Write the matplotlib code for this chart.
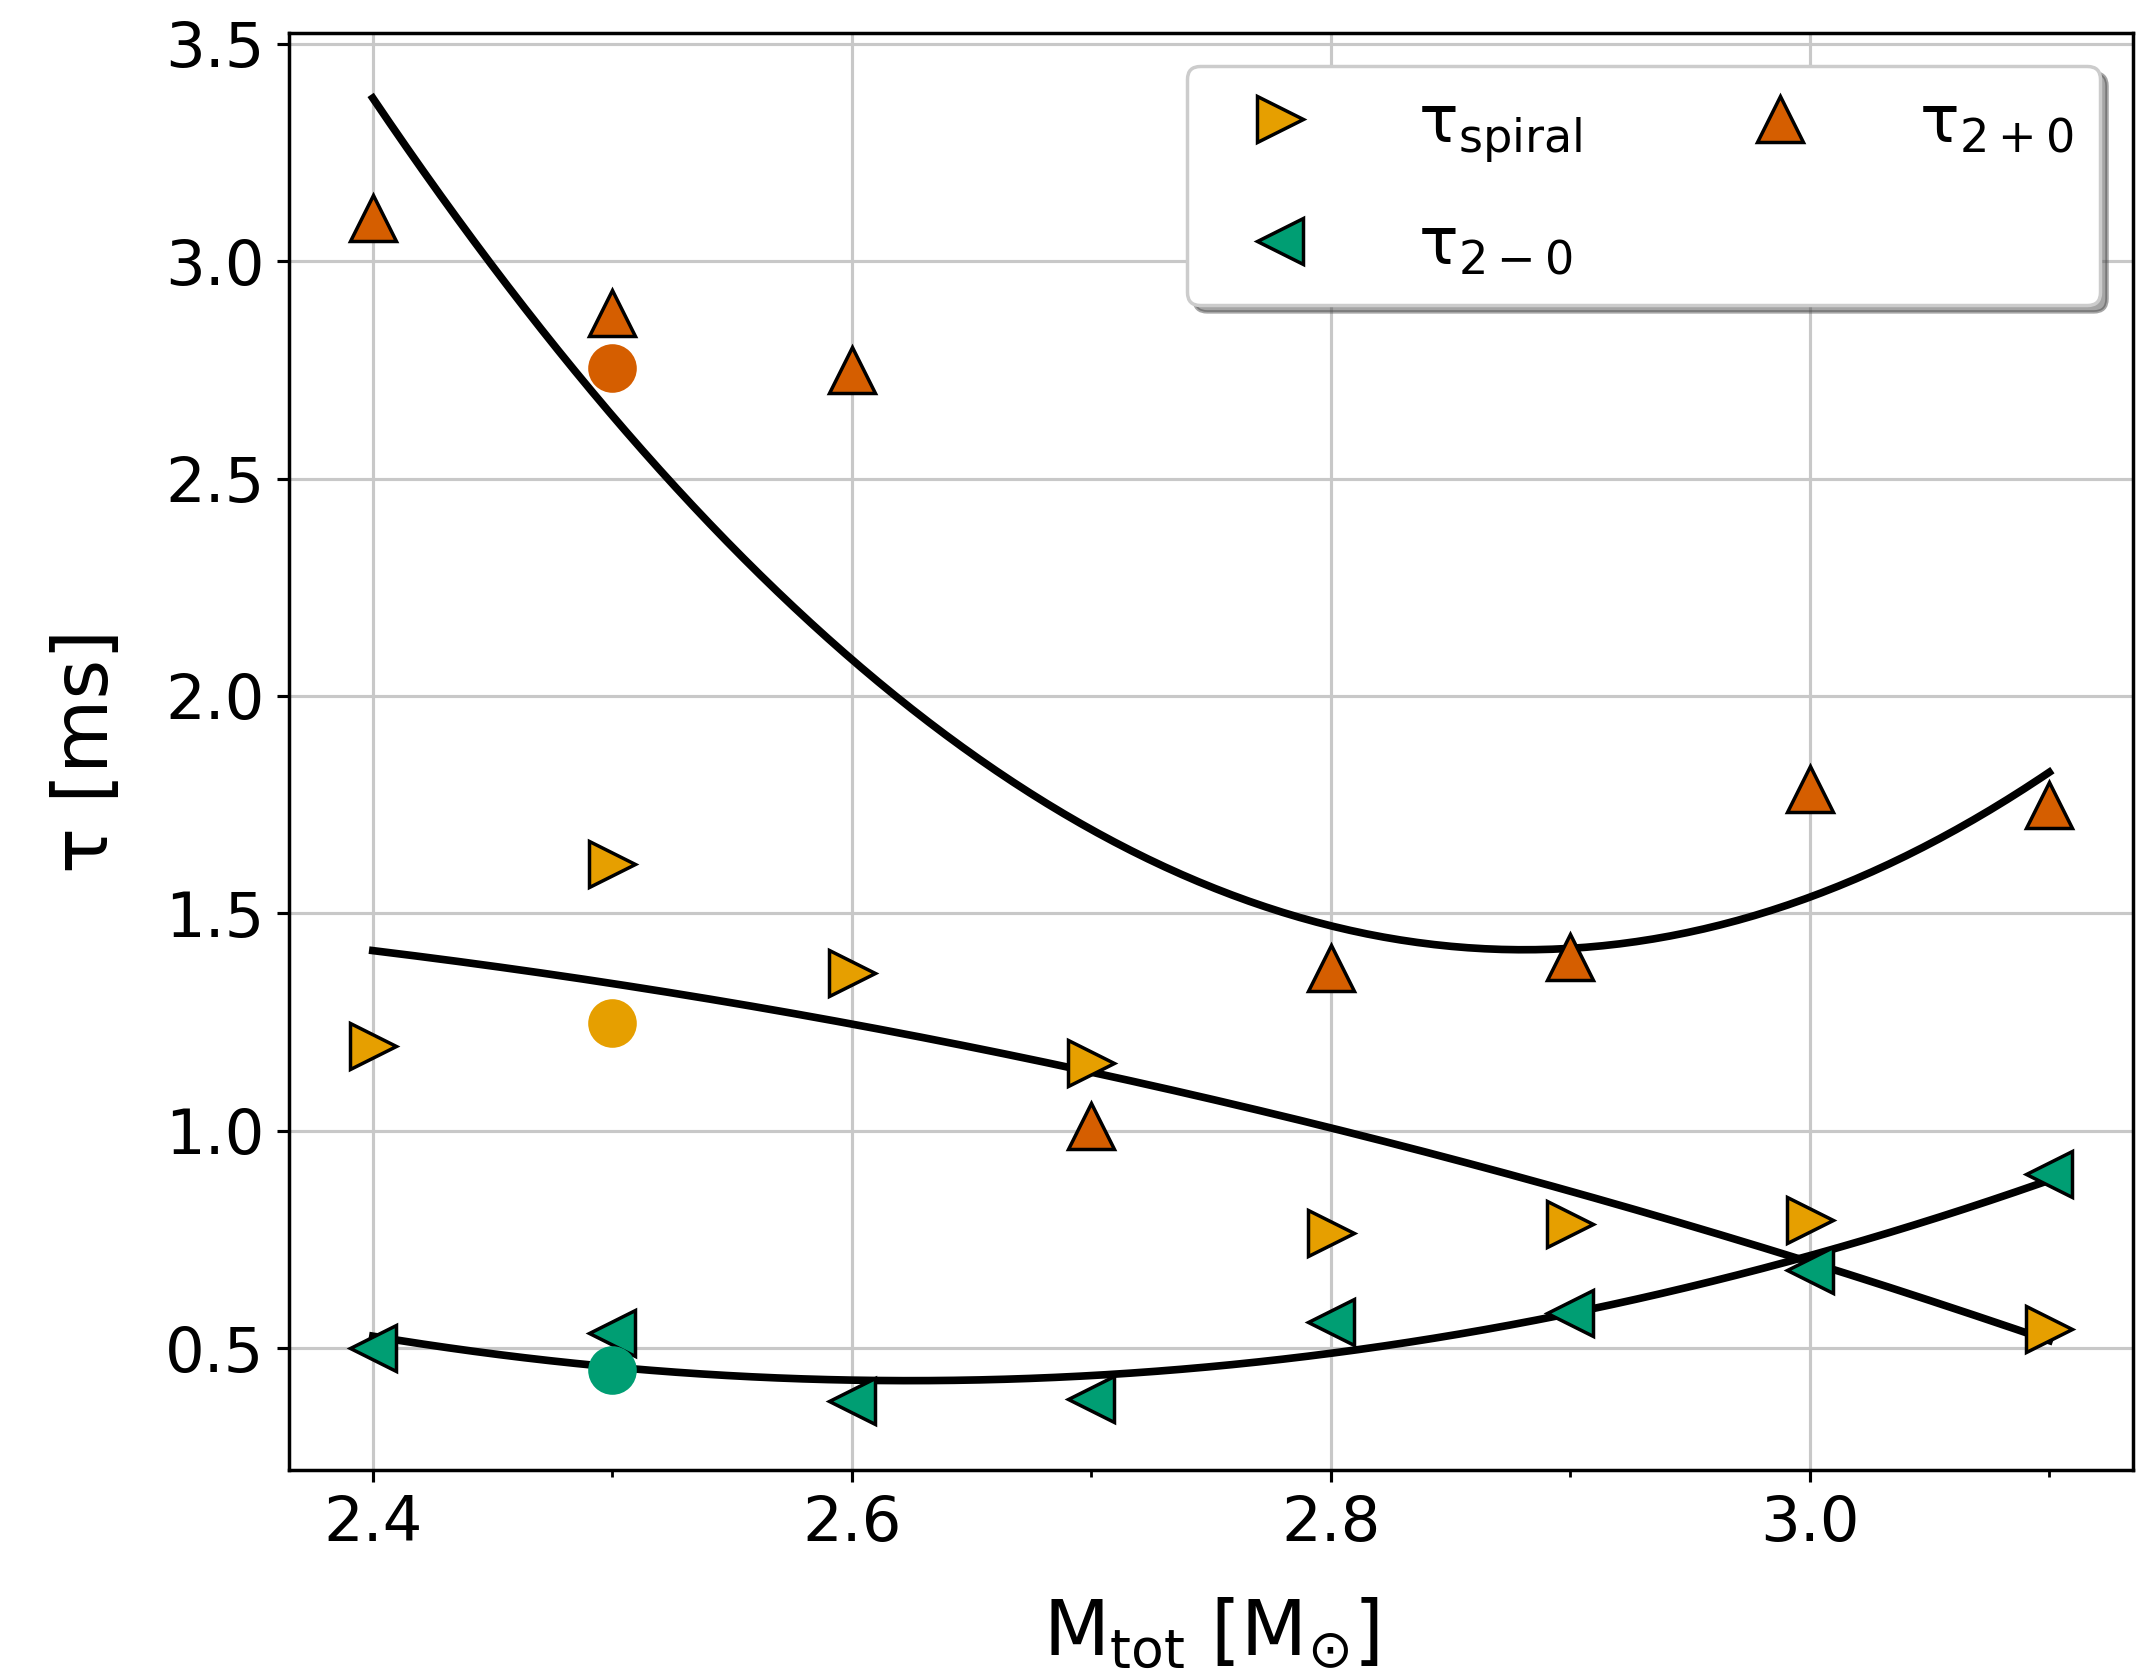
import numpy as np
import matplotlib
matplotlib.use("Agg")
import matplotlib.pyplot as plt
from matplotlib.ticker import MultipleLocator

# ---- data ----
m_tot = [2.4, 2.5, 2.6, 2.7, 2.8, 2.9, 3.0, 3.1]
tau_spiral = [1.195, 1.613, 1.362, 1.157, 0.764, 0.786, 0.796, 0.544]
tau_2m0 = [0.50, 0.535, 0.378, 0.384, 0.56, 0.58, 0.679, 0.90]
tau_2p0 = [3.10, 2.88, 2.75, 1.01, 1.374, 1.40, 1.786, 1.75]

# separate circle points at M_tot = 2.5
circ_x = [2.5]
circ_spiral = [1.248]
circ_2m0 = [0.45]
circ_2p0 = [2.755]

col_spiral = "#E69F00"
col_2m0 = "#009E73"
col_2p0 = "#D55E00"

DPI = 250
fig = plt.figure(figsize=(2147 / DPI, 1679 / DPI), dpi=DPI)
ax = fig.add_axes([0.1346, 0.1245, 0.8589, 0.8559])

# quadratic fits (degree-2 polyfit of each series)
xf = np.linspace(min(m_tot), max(m_tot), 200)
for ys in (tau_2p0, tau_spiral, tau_2m0):
    c = np.polyfit(m_tot, ys, 2)
    ax.plot(xf, np.polyval(c, xf), color="black", lw=2.2, zorder=2)

ms = 13.5
h1, = ax.plot(m_tot, tau_spiral, ">", ls="none", color=col_spiral, mec="black",
              mew=1.0, ms=ms, zorder=3, label=r"$\mathrm{τ_{spiral}}$")
h2, = ax.plot(m_tot, tau_2m0, "<", ls="none", color=col_2m0, mec="black",
              mew=1.0, ms=ms, zorder=3, label=r"$\mathrm{τ_{2-0}}$")
h3, = ax.plot(m_tot, tau_2p0, "^", ls="none", color=col_2p0, mec="black",
              mew=1.0, ms=ms, zorder=3, label=r"$\mathrm{τ_{2+0}}$")

cms = 14
ax.plot(circ_x, circ_spiral, "o", ls="none", color=col_spiral, mew=0, ms=cms, zorder=4)
ax.plot(circ_x, circ_2m0, "o", ls="none", color=col_2m0, mew=0, ms=cms, zorder=4)
ax.plot(circ_x, circ_2p0, "o", ls="none", color=col_2p0, mew=0, ms=cms, zorder=4)

ax.set_xlim(2.365, 3.135)
ax.set_ylim(0.22, 3.525)
ax.set_xticks([2.4, 2.6, 2.8, 3.0])
ax.xaxis.set_minor_locator(MultipleLocator(0.1))
ax.set_yticks([0.5, 1.0, 1.5, 2.0, 2.5, 3.0, 3.5])
ax.tick_params(axis="both", which="major", labelsize=18, length=3.5, width=0.9)
ax.tick_params(axis="x", which="minor", length=2.0, width=0.8)
for s in ax.spines.values():
    s.set_linewidth(1.0)
ax.grid(True, which="major", color="#c8c8c8", lw=0.9)
ax.set_axisbelow(True)

ax.set_xlabel(r"$\mathrm{M_{tot}}$ [$\mathrm{M_{\odot}}$]", fontsize=22, labelpad=12)
ax.set_ylabel("τ [ms]", fontsize=22, labelpad=12)

ax.legend(handles=[h1, h2, h3], ncol=2, loc="upper right", fontsize=19,
          labelspacing=0.75, handletextpad=1.1, shadow=True, framealpha=1.0)

fig.savefig("out.png", dpi=DPI)
